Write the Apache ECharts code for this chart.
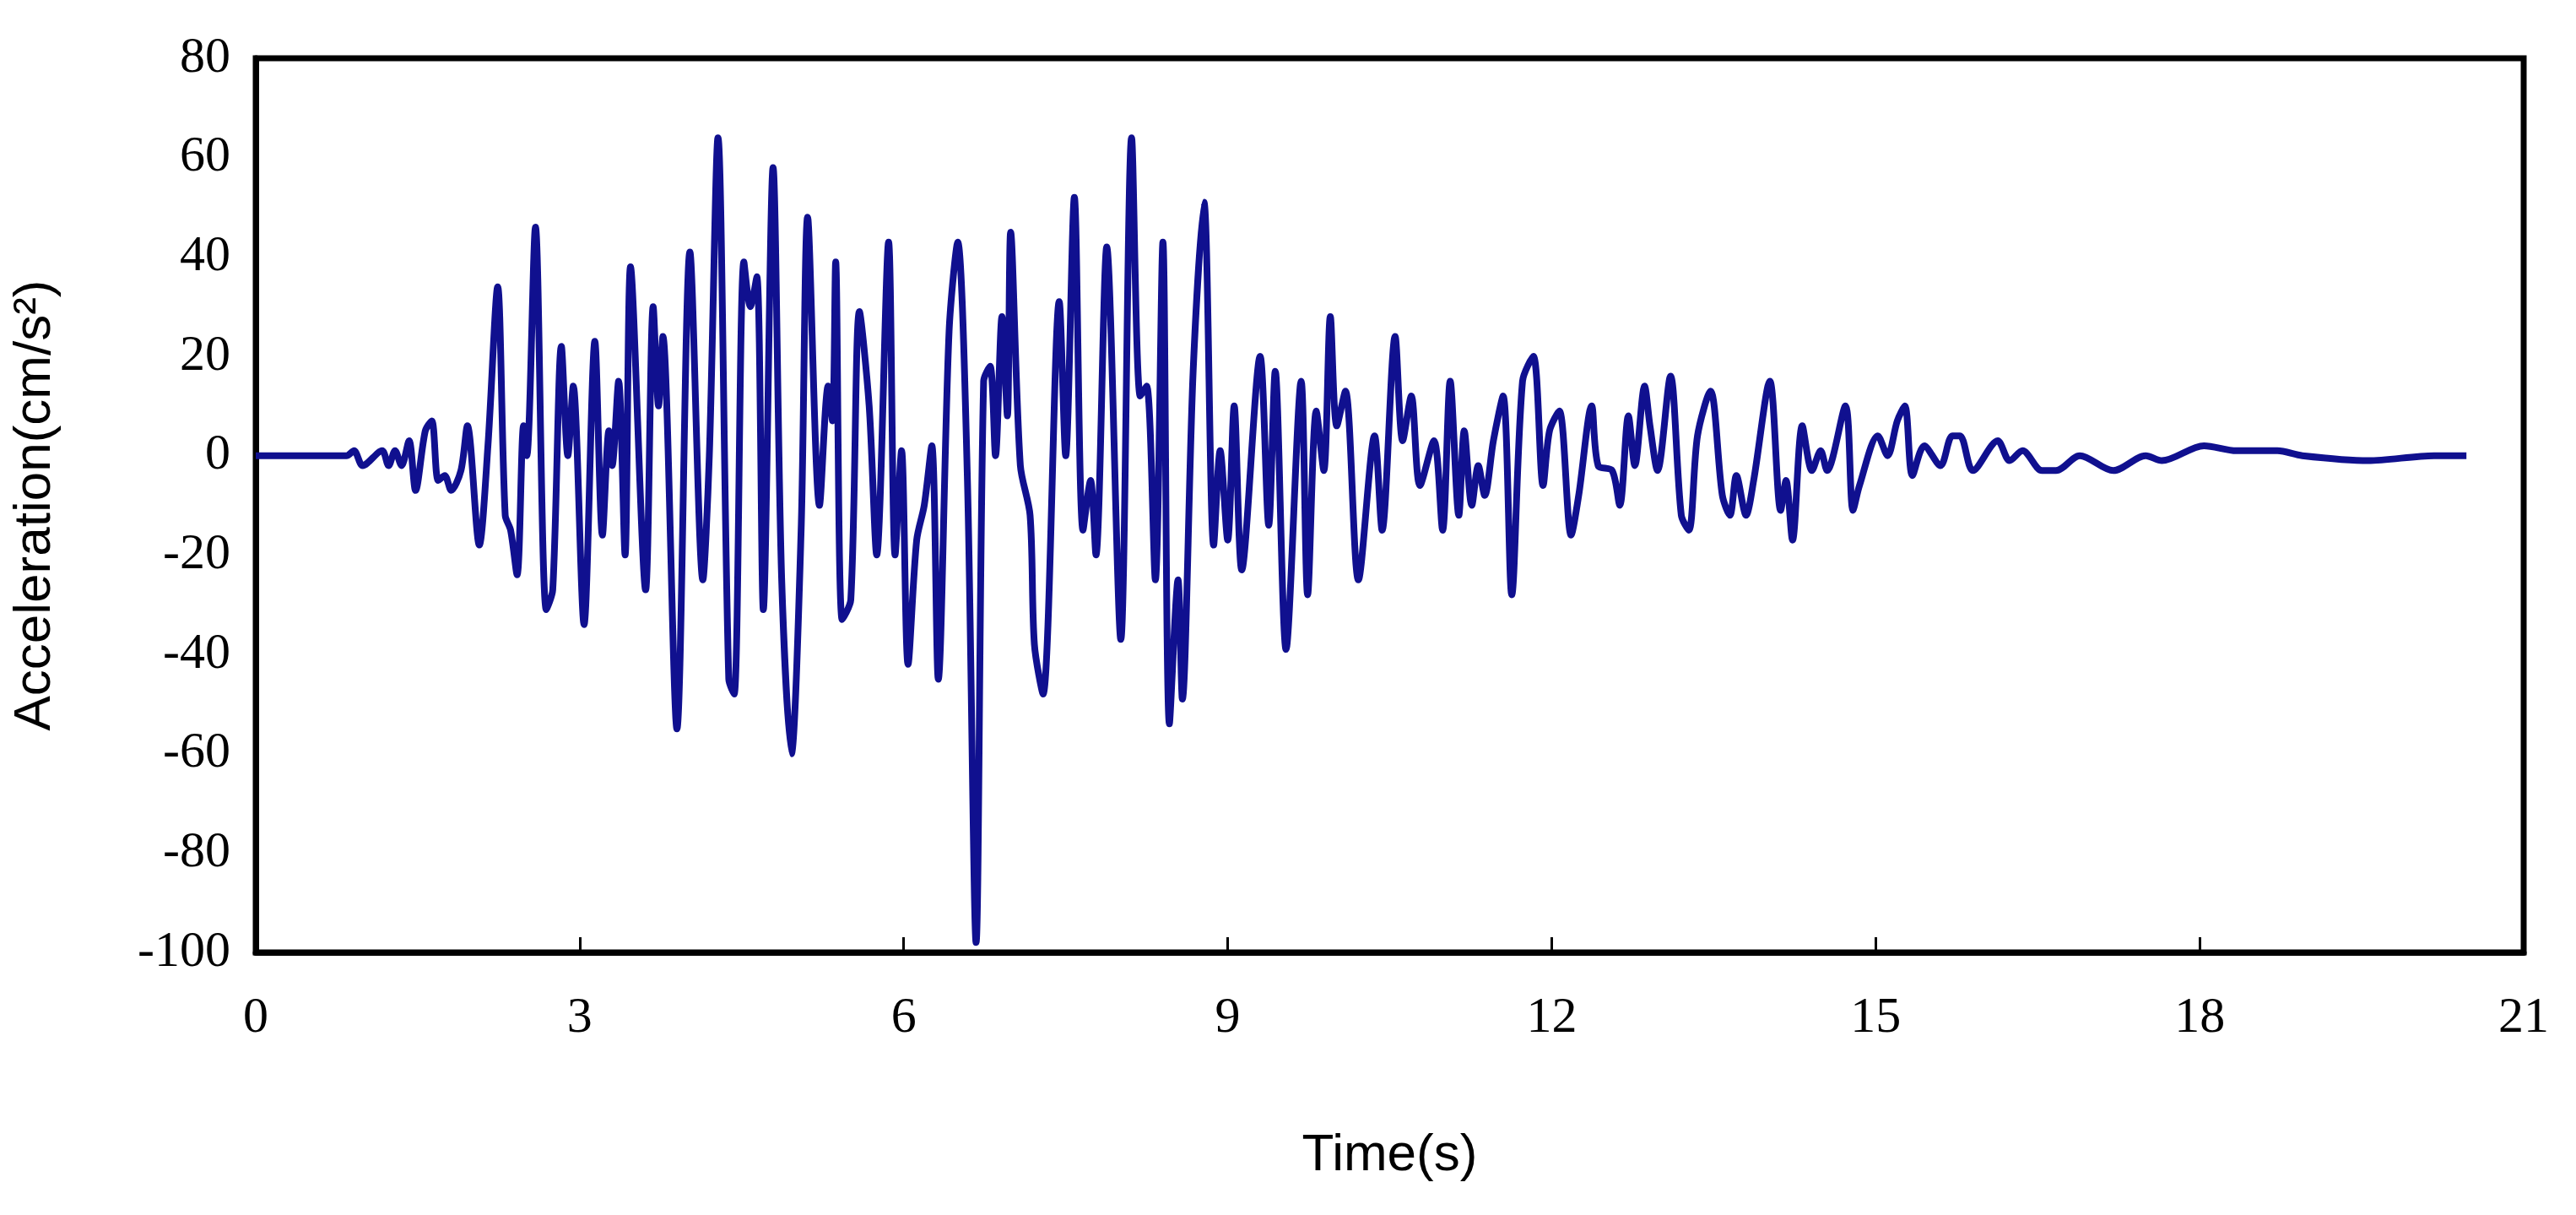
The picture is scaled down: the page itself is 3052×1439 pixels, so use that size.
<!DOCTYPE html>
<html><head><meta charset="utf-8">
<script src="https://cdn.jsdelivr.net/npm/echarts@6/dist/echarts.min.js"></script>
<style>html,body{margin:0;background:#fff}#c{width:3052px;height:1439px}</style>
</head><body><div id="c"></div>
<script>
const times = [0,0.84,0.91,0.99,1.17,1.23,1.29,1.35,1.42,1.48,1.57,1.63,1.69,1.75,1.81,1.90,1.96,2.07,2.15,2.24,2.31,2.36,2.42,2.48,2.51,2.59,2.69,2.75,2.83,2.89,2.94,3.04,3.14,3.21,3.27,3.30,3.36,3.42,3.47,3.61,3.68,3.73,3.77,3.90,4.02,4.14,4.20,4.28,4.38,4.43,4.52,4.58,4.64,4.70,4.79,4.87,4.96,5.05,5.11,5.22,5.30,5.34,5.37,5.43,5.51,5.59,5.68,5.75,5.86,5.92,5.98,6.04,6.12,6.19,6.26,6.32,6.42,6.50,6.59,6.67,6.74,6.80,6.85,6.91,6.96,6.99,7.08,7.17,7.21,7.29,7.44,7.50,7.58,7.66,7.73,7.78,7.88,8.01,8.11,8.19,8.25,8.33,8.40,8.46,8.54,8.58,8.68,8.78,8.87,8.93,9.00,9.06,9.13,9.30,9.38,9.44,9.54,9.68,9.74,9.82,9.89,9.95,10.01,10.09,10.21,10.36,10.43,10.55,10.62,10.70,10.78,10.91,10.99,11.06,11.14,11.19,11.26,11.32,11.38,11.46,11.55,11.63,11.73,11.83,11.92,11.98,12.07,12.18,12.25,12.37,12.43,12.56,12.63,12.71,12.77,12.86,12.91,12.98,13.10,13.20,13.27,13.35,13.47,13.58,13.65,13.71,13.80,13.87,14.02,14.12,14.17,14.23,14.32,14.41,14.49,14.55,14.72,14.79,14.85,15.02,15.11,15.20,15.27,15.34,15.45,15.60,15.71,15.78,15.90,16.13,16.24,16.36,16.54,16.67,16.89,17.20,17.50,17.65,18.04,18.34,18.72,18.95,19.56,20.17,20.47];
const accel = [0,0,1,-2,1,-2,1,-2,3,-7,5,7,-5,-4,-7,-3,6,-18,2,34,-12,-15,-24,6,0,46,-31,-27,22,0,14,-34,23,-16,5,-2,15,-20,38,-27,30,10,24,-55,41,-25,0,64,-45,-48,39,30,36,-31,58,-25,-60,-15,48,-10,14,7,39,-33,-29,29,10,-20,43,-20,1,-42,-17,-10,2,-45,25,43,-5,-98,15,18,0,28,8,45,-2,-12,-38,-48,31,0,52,-15,-5,-20,42,-37,64,12,14,-25,43,-54,-25,-49,17,51,-18,1,-17,10,-23,20,-14,17,-39,15,-28,9,-3,28,6,13,-25,4,-15,24,3,12,-6,3,-15,15,-12,5,-10,-2,-8,3,12,-28,15,20,-6,5,9,-16,-8,10,-2,-3,-10,8,-2,14,6,-3,16,-12,-15,4,13,-8,-12,-4,-12,-5,15,-11,-5,-17,6,-3,1,-3,10,-11,-6,4,0,7,10,-4,2,-2,4,4,-3,3,-1,1,-3,-3,0,-3,0,-1,2,1,1,0,-1,0,0];
const xTicks = [0,3,6,9,12,15,18,21];
const yTicks = [-100,-80,-60,-40,-20,0,20,40,60,80];
const chart = echarts.init(document.getElementById('c'));
chart.setOption({
  animation:false,
  grid:{left:303,right:62,top:69,bottom:311,show:true,borderColor:'#000',borderWidth:7},
  xAxis:{type:'value',min:0,max:21,interval:3,name:'Time(s)',nameLocation:'middle',nameGap:210,
    nameTextStyle:{fontFamily:'Liberation Sans',fontSize:62,color:'#000'},
    axisLine:{onZero:false,lineStyle:{color:'#000',width:7}},axisTick:{inside:true,length:18,lineStyle:{color:'#000',width:3}},
    axisLabel:{fontFamily:'Liberation Serif',fontSize:60,color:'#000',margin:48},splitLine:{show:false}},
  yAxis:{type:'value',min:-100,max:80,interval:20,name:'Acceleration(cm/s²)',nameLocation:'middle',nameGap:230,
    nameTextStyle:{fontFamily:'Liberation Sans',fontSize:62,color:'#000'},
    axisLine:{show:true,onZero:false,lineStyle:{color:'#000',width:7}},axisTick:{show:false},
    axisLabel:{fontFamily:'Liberation Serif',fontSize:60,color:'#000',margin:30},splitLine:{show:false}},
  series:[{type:'line',data:times.map((t,i)=>[t,accel[i]]),showSymbol:false,smooth:0.3,
    lineStyle:{color:'#10108f',width:8}}]
});
</script></body></html>
